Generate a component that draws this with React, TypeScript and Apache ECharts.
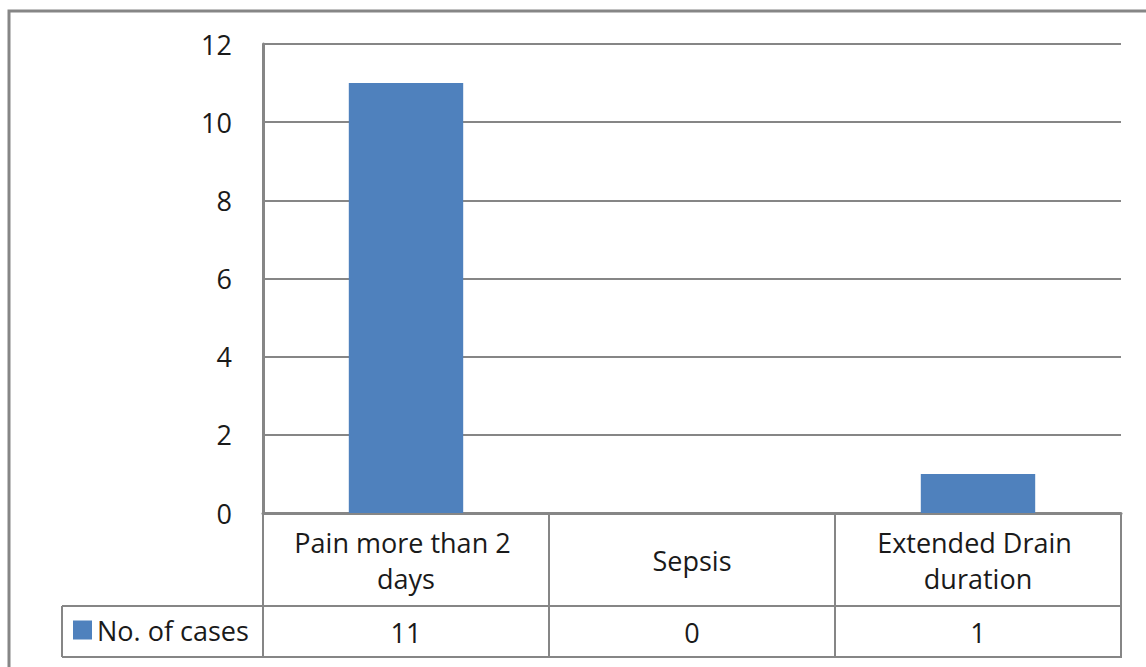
import React, { useEffect, useRef } from "react";
import * as echarts from "echarts";

const categories = ["Pain more than 2 days", "Sepsis", "Extended Drain duration"];
const cases = [11, 0, 1];
const seriesName = "No. of cases";
const yMin = 0;
const yMax = 12;
const yInterval = 2;

const FONT = "Open Sans";
const FS = 27;
const GRAY = "#868686";
const TEXT = "#1a1a1a";

export default function App() {
  const ref = useRef<HTMLDivElement>(null);
  useEffect(() => {
    if (!ref.current) return;
    const chart = echarts.init(ref.current, null, { renderer: "svg" });
    const gridLeft = 263;
    const gridTop = 44;
    const gridRight = 1121;
    const gridBottom = 513;
    const row1 = 606;
    const row2 = 657;
    const legendLeft = 62;
    chart.setOption({
      animation: false,
      textStyle: { fontFamily: FONT },
      grid: {
        left: gridLeft,
        top: gridTop,
        width: gridRight - gridLeft,
        height: gridBottom - gridTop,
        containLabel: false,
      },
      legend: {
        show: true,
        data: [{ name: seriesName, icon: "rect" }],
        left: 73,
        top: 615,
        itemWidth: 19,
        itemHeight: 19,
        itemGap: 10,
        textStyle: { fontFamily: FONT, fontSize: FS, color: TEXT, lineHeight: 30, padding: [0, 0, 0, 0] },
        padding: 0,
      },
      xAxis: [
        {
          type: "category",
          data: categories,
          position: "bottom",
          axisLine: { show: true, lineStyle: { color: GRAY, width: 3 } },
          axisTick: { show: true, length: row2 - gridBottom, lineStyle: { color: GRAY, width: 2 } },
          axisLabel: {
            show: true,
            interval: 0,
            margin: 47,
            width: 250,
            overflow: "break",
            verticalAlign: "middle",
            align: "center",
            lineHeight: 36,
            fontFamily: FONT,
            fontSize: FS,
            color: TEXT,
          },
          splitLine: { show: false },
        },
        {
          type: "category",
          data: cases.map((v) => String(v)),
          position: "bottom",
          offset: row1 - gridBottom,
          axisLine: { show: true, lineStyle: { color: GRAY, width: 2 } },
          axisTick: { show: false },
          axisLabel: {
            show: true,
            interval: 0,
            margin: 26,
            verticalAlign: "middle",
            align: "center",
            fontFamily: FONT,
            fontSize: FS,
            color: TEXT,
          },
          splitLine: { show: false },
        },
      ],
      yAxis: {
        type: "value",
        min: yMin,
        max: yMax,
        interval: yInterval,
        axisLine: { show: true, lineStyle: { color: GRAY, width: 3 } },
        axisTick: { show: false },
        axisLabel: { margin: 31, fontFamily: FONT, fontSize: FS, color: TEXT },
        splitLine: { show: true, lineStyle: { color: GRAY, width: 2 } },
      },
      series: [
        {
          name: seriesName,
          type: "bar",
          xAxisIndex: 0,
          data: cases,
          barWidth: "40%",
          itemStyle: { color: "#4F81BD" },
        },
      ],
      graphic: [
        {
          type: "rect",
          shape: { x: 9, y: 11, width: 1300, height: 800 },
          style: { fill: "none", stroke: GRAY, lineWidth: 3 },
          silent: true,
        },
        {
          type: "line",
          shape: { x1: legendLeft, y1: row1, x2: gridLeft, y2: row1 },
          style: { stroke: GRAY, lineWidth: 2 },
          silent: true,
        },
        {
          type: "line",
          shape: { x1: legendLeft, y1: row2, x2: gridRight + 1, y2: row2 },
          style: { stroke: GRAY, lineWidth: 2 },
          silent: true,
        },
        {
          type: "line",
          shape: { x1: legendLeft, y1: row1, x2: legendLeft, y2: row2 },
          style: { stroke: GRAY, lineWidth: 2 },
          silent: true,
        },
      ],
    });
    return () => chart.dispose();
  }, []);
  return (
    <div
      ref={ref}
      style={{ position: "absolute", left: 0, top: 0, width: 1146, height: 667, background: "#fff" }}
    />
  );
}
